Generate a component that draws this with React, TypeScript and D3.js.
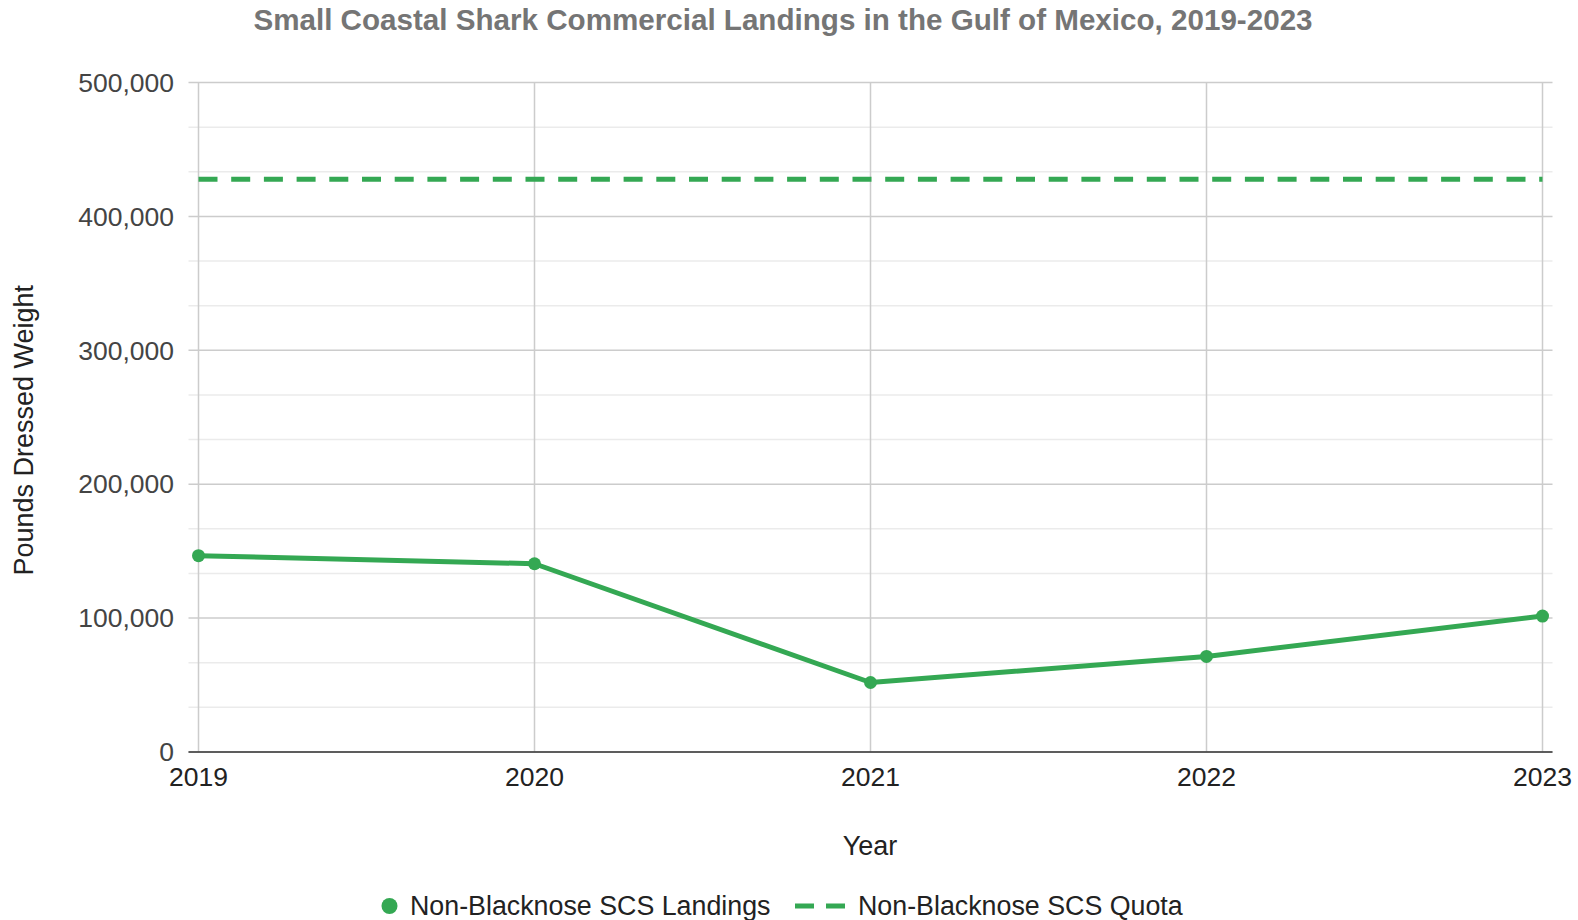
import React from "react";
import * as d3 from "d3";

const years = [2019, 2020, 2021, 2022, 2023];
const landings = [146600, 140600, 51900, 71400, 101500];
const quota = [427800, 427800, 427800, 427800, 427800];
const yTicks = [0, 100000, 200000, 300000, 400000, 500000];
const title = "Small Coastal Shark Commercial Landings in the Gulf of Mexico, 2019-2023";
const seriesNames = ["Non-Blacknose SCS Landings", "Non-Blacknose SCS Quota"];

const W = 1578;
const H = 920;
const FONT = "'Liberation Sans', Arial, sans-serif";
const GREEN = "#34a853";

export default function App() {
  const x = d3.scaleLinear().domain([2019, 2023]).range([198.5, 1542.5]);
  const y = d3.scaleLinear().domain([0, 500000]).range([752, 82.5]);
  const fmt = d3.format(",");
  const minor: number[] = [];
  for (let i = 0; i < 15; i++) {
    if (i % 3 !== 0) minor.push((i * 100000) / 3);
  }
  const line = d3
    .line<number>()
    .x((_, i) => x(years[i]))
    .y((d) => y(d));
  const [x0, x1] = x.range();
  return (
    <svg
      width={W}
      height={H}
      style={{ position: "absolute", left: 0, top: 0, display: "block", background: "#fff" }}
      fontFamily={FONT}
    >
      <text x={783} y={30} textAnchor="middle" fontSize={29.6} fontWeight="bold" fill="#757575">
        {title}
      </text>
      {minor.map((v) => (
        <line key={"m" + v} x1={x0 - 10} x2={x1 + 10} y1={y(v)} y2={y(v)} stroke="#ebebeb" strokeWidth={1.5} />
      ))}
      {yTicks.map((v) => (
        <line key={"g" + v} x1={x0 - 10} x2={x1 + 10} y1={y(v)} y2={y(v)} stroke="#cccccc" strokeWidth={1.5} />
      ))}
      {years.map((yr) => (
        <line key={"v" + yr} x1={x(yr)} x2={x(yr)} y1={y(500000)} y2={y(0)} stroke="#cccccc" strokeWidth={1.5} />
      ))}
      <line x1={x0 - 10} x2={x1 + 10} y1={y(0)} y2={y(0)} stroke="#333333" strokeWidth={1.5} />
      {yTicks.map((v) => (
        <text key={"t" + v} x={174} y={y(v)} dy="0.35em" textAnchor="end" fontSize={26.5} fill="#444">
          {fmt(v)}
        </text>
      ))}
      {years.map((yr) => (
        <text key={"xt" + yr} x={x(yr)} y={786} textAnchor="middle" fontSize={26.5} fill="#222">
          {yr}
        </text>
      ))}
      <text
        transform={`translate(33,${y(250000) + 13}) rotate(-90)`}
        textAnchor="middle"
        fontSize={27}
        fill="#222"
      >
        Pounds Dressed Weight
      </text>
      <text x={870} y={855} textAnchor="middle" fontSize={27} fill="#222">
        Year
      </text>
      <path d={line(quota) || ""} fill="none" stroke={GREEN} strokeWidth={5} strokeDasharray="19 13.7" />
      <path d={line(landings) || ""} fill="none" stroke={GREEN} strokeWidth={5} strokeLinejoin="round" />
      {landings.map((v, i) => (
        <circle key={"p" + i} cx={x(years[i])} cy={y(v)} r={6.5} fill={GREEN} />
      ))}
      <circle cx={389.5} cy={906} r={8} fill={GREEN} />
      <text x={410} y={906} dy="0.35em" fontSize={26.8} fill="#222">
        {seriesNames[0]}
      </text>
      <line x1={795} x2={845} y1={906} y2={906} stroke={GREEN} strokeWidth={5} strokeDasharray="19 12" />
      <text x={858} y={906} dy="0.35em" fontSize={26.8} fill="#222">
        {seriesNames[1]}
      </text>
    </svg>
  );
}
